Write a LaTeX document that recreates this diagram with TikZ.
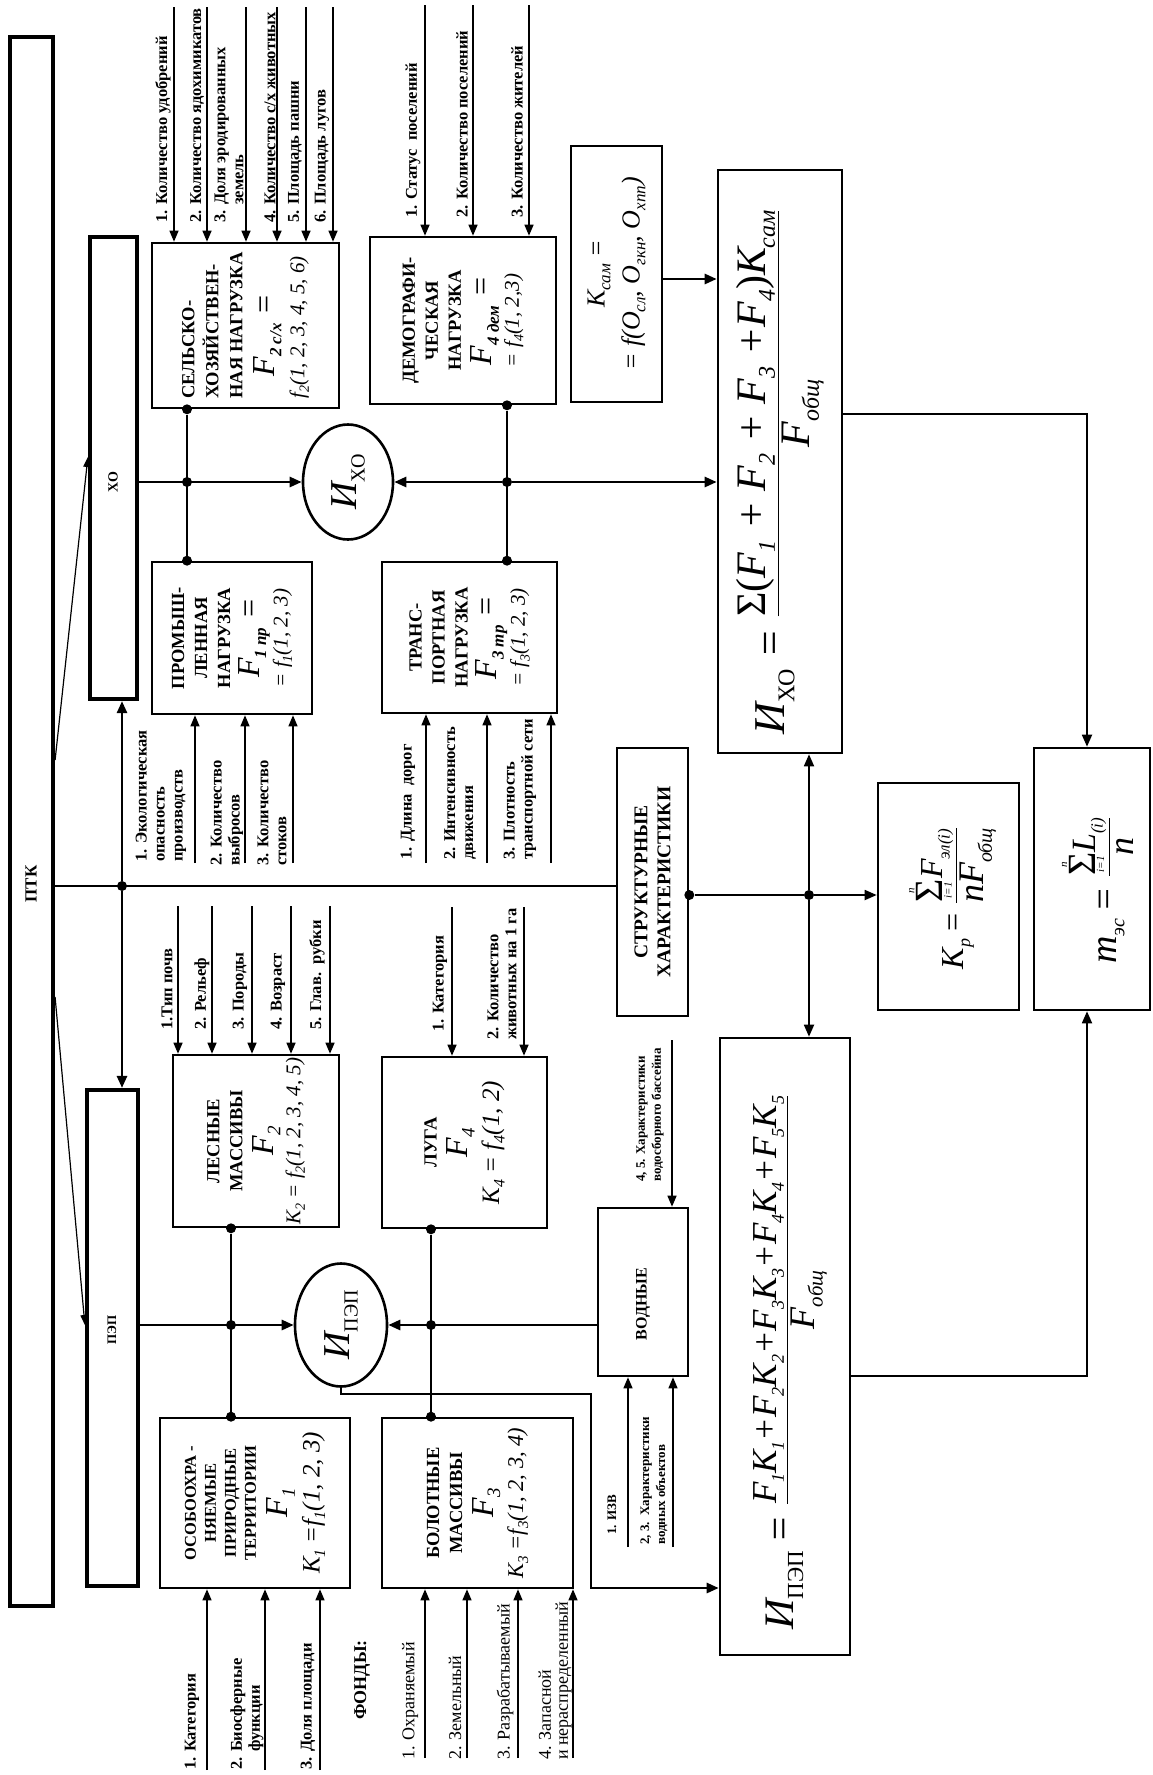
\documentclass[tikz,border=0pt]{standalone}
\usepackage{fontspec}
\setmainfont{Liberation Serif}
\usetikzlibrary{arrows.meta,fit,shapes.geometric}
\newcommand\myLB{\bfseries\fontsize{16.5}{18}\selectfont}
\newcommand\myLR{\fontsize{18}{17}\selectfont}
\newcommand\myLS{\bfseries\fontsize{13}{16}\selectfont}
\newcommand\myTT{\bfseries\fontsize{18.5}{18.5}\selectfont}
\newcommand\myTS{\bfseries\fontsize{16.5}{16.5}\selectfont}
\newcommand\myFF{\itshape\fontsize{32}{32}\selectfont}
\newcommand\myFM{\itshape\fontsize{21}{21}\selectfont}
\newcommand\myFL{\itshape\fontsize{25}{25}\selectfont}
\newcommand\mysub[2]{\raisebox{-0.22em}{\fontsize{#1}{#1}\selectfont #2}}
\begin{document}
\begin{tikzpicture}[x=1pt,y=-1pt,
  bx/.style={draw, line width=2.6pt, inner sep=0pt},
  tbx/.style={draw, line width=4.2pt, inner sep=0pt},
  rot/.style={rotate=90, inner sep=0pt, align=center, font=\fontsize{16}{23}\selectfont},
  lab/.style={rotate=90, inner sep=0pt, anchor=west, align=left, font=\myLB},
  labr/.style={lab, font=\myLR},
  labs/.style={lab, font=\myLS},
  inarr/.style={line width=1.4pt, -{Triangle[length=11pt,width=9pt]}},
  cn/.style={line width=2.6pt},
  cnarr/.style={cn, -{Triangle[length=12pt,width=10pt]}},
  tn/.style={line width=1.8pt},
  tnarr/.style={tn, -{Triangle[length=12pt,width=10pt]}},
  dg/.style={line width=1.2pt, -{Triangle[length=10pt,width=7pt]}},
  jd/.style={circle, fill, inner sep=0pt, minimum size=10pt},
  ell/.style={ellipse, draw, line width=2.6pt, inner sep=0pt}
]
\useasboundingbox (0,0) rectangle (1153,1775);
% ---------- frames
\node[tbx, fit={(10,37)(53,1606)}] (ptk) {};
\node[tbx, fit={(90,237)(137,699)}] (xo) {};
\node[tbx, fit={(87,1090)(138,1586)}] (pep) {};
\node[bx, fit={(152,243)(339,408)}] (sel) {};
\node[bx, fit={(370,237)(556,404)}] (dem) {};
\node[bx, fit={(571,146)(662,402)}] (ksam) {};
\node[bx, fit={(718,170)(842,753)}] (iho) {};
\node[bx, fit={(152,562)(312,714)}] (prom) {};
\node[bx, fit={(382,562)(557,713)}] (trans) {};
\node[bx, fit={(617,748)(688,1016)}] (strukt) {};
\node[bx, fit={(878,783)(1019,1010)}] (kp) {};
\node[bx, fit={(1034,748)(1150,1010)}] (mes) {};
\node[bx, fit={(173,1055)(339,1227)}] (les) {};
\node[bx, fit={(382,1057)(547,1228)}] (luga) {};
\node[bx, fit={(598,1208)(688,1376)}] (vod) {};
\node[bx, fit={(160,1418)(350,1588)}] (osobo) {};
\node[bx, fit={(382,1418)(573,1588)}] (bolot) {};
\node[bx, fit={(720,1038)(850,1655)}] (ipep) {};
\node[ell, minimum width=90pt, minimum height=115pt] (cho) at (348,482) {};
\node[ell, minimum width=92pt, minimum height=123pt] (cpep) at (341,1325) {};
% ---------- junction dots
\node[jd] (d1) at (sel.south -| 187,0) {};
\node[jd] (d2) at (prom.north -| 187,0) {};
\node[jd] (d3) at (187,482) {};
\node[jd] (d4) at (dem.south -| 507,0) {};
\node[jd] (d5) at (trans.north -| 507,0) {};
\node[jd] (d6) at (507,482) {};
\node[jd] (jp) at (122,886) {};
\node[jd] (js) at (strukt.east |- 0,895) {};
\node[jd] (jk) at (809,895) {};
\node[jd] (d7) at (les.south -| 231,0) {};
\node[jd] (d8) at (osobo.north -| 231,0) {};
\node[jd] (d9) at (231,1325) {};
\node[jd] (d10) at (luga.south -| 431,0) {};
\node[jd] (d11) at (bolot.north -| 431,0) {};
\node[jd] (d12) at (431,1325) {};
% ---------- connectors
\draw[cn] (d1) -- (d2);
\draw[cnarr] (xo.east |- d3) -- (cho);
\draw[cn] (d4) -- (d5);
\draw[cnarr] (d6) -- (cho);
\draw[cnarr] (d6) -- (d6 -| iho.west);
\draw[cnarr] (ksam.east |- 0,279) -- (iho.west |- 0,279);
\draw[cn] (ptk.east |- jp) -- (jp -| strukt.west);
\draw[cnarr] (jp) -- (jp |- xo.south);
\draw[cnarr] (jp) -- (jp |- pep.north);
\draw[dg] (ptk.east |- 0,760) -- (xo.west |- 0,457);
\draw[dg] (ptk.east |- 0,997) -- (pep.west |- 0,1325);
\draw[tn] (js) -- (jk);
\draw[tnarr] (jk) -- (jk -| kp.west);
\draw[tnarr] (jk) -- (jk |- iho.south);
\draw[tnarr] (jk) -- (jk |- ipep.north);
\draw[tnarr] (iho.east |- 0,414) -| (1087,0 |- mes.north);
\draw[tnarr] (ipep.east |- 0,1376) -| (1087,0 |- mes.south);
\draw[cn] (d7) -- (d8);
\draw[cnarr] (pep.east |- d9) -- (cpep);
\draw[cn] (d10) -- (d11);
\draw[cnarr] (vod.west |- d12) -- (cpep);
\draw[cnarr] (cpep.south) -- (cpep.south |- 0,1394) -| (591,1588) -- (ipep.west |- 0,1588);
% ---------- input arrows
\foreach \x in {174,207,246,277,306,333} \draw[inarr] (\x,7) -- (\x,7 |- sel.north);
\foreach \x in {425,473,529} \draw[inarr] (\x,5) -- (\x,5 |- dem.north);
\foreach \x in {195,245,293} \draw[inarr] (\x,863) -- (\x,863 |- prom.south);
\foreach \x in {426,487,551} \draw[inarr] (\x,863) -- (\x,863 |- trans.south);
\foreach \x in {178,212,252,291,330} \draw[inarr] (\x,906) -- (\x,906 |- les.north);
\foreach \x in {452,524} \draw[inarr] (\x,907) -- (\x,907 |- luga.north);
\draw[inarr] (672,1040) -- (672,1040 |- vod.north);
\foreach \x in {628,673} \draw[inarr] (\x,1547) -- (\x,1547 |- vod.south);
\foreach \x in {207,265,320} \draw[inarr] (\x,1770) -- (\x,1770 |- osobo.south);
\foreach \x in {425,467,518,573} \draw[inarr] (\x,1758) -- (\x,1758 |- bolot.south);
% ---------- labels of input arrows
\node[lab] (l1) at (163,223) {1. Количество удобрений};
\node[lab] (l2) at (197,223) {2. Количество ядохимикатов};
\node[lab] (l3) at (229,223) {3. Доля эродированных\\\phantom{3. }земель};
\node[lab] (l4) at (270,223) {4. Количество с/х животных};
\node[lab] (l5) at (295,223) {5. Площадь пашни};
\node[lab] (l6) at (322,223) {6. Площадь лугов};
\node[lab] (m1) at (413,218) {1. Статус\ \ поселений};
\node[lab] (m2) at (462,218) {2. Количество поселений};
\node[lab] (m3) at (517,218) {3. Количество жителей};
\node[lab] (p1) at (161,862) {1. Экологическая\\опасность\\производств};
\node[lab] (p2) at (227,866) {2. Количество\\выбросов};
\node[lab] (p3) at (272,866) {3. Количество\\стоков};
\node[lab] (t1) at (408,860) {1. Длина\ \ дорог};
\node[lab] (t2) at (460,860) {2. Интенсивность\\движения};
\node[lab] (t3) at (520,860) {3. Плотность\\транспортной сети};
\node[lab] (f1) at (167,1030) {1.Тип почв};
\node[lab] (f2) at (202,1030) {2. Рельеф};
\node[lab] (f3) at (240,1030) {3. Породы};
\node[lab] (f4) at (278,1030) {4. Возраст};
\node[lab] (f5) at (317,1030) {5. Глав.\ \ рубки};
\node[lab] (g1) at (440,1032) {1. Категория};
\node[lab] (g2) at (502,1040) {2. Количество\\животных на 1 га};
\node[labs] (w1) at (650,1182) {4, 5. Характеристики\\водосборного бассейна};
\node[labs] (w2) at (612,1535) {1. ИЗВ};
\node[labs] (w3) at (654,1545) {2, 3.\ \ Характеристики\\водных объектов};
\node[lab] (o1) at (192,1770) {1. Категория};
\node[lab] (o2) at (247,1770) {2. Биосферные\\\phantom{2. }функции};
\node[lab] (o3) at (308,1770) {3. Доля площади};
\node[lab, font=\bfseries\fontsize{18}{18}\selectfont] (fondy) at (362,1720) {ФОНДЫ:};
\node[labr] (b1) at (410,1760) {1. Охраняемый};
\node[labr] (b2) at (455,1760) {2. Земельный};
\node[labr] (b3) at (505,1760) {3. Разрабатываемый};
\node[labr] (b4) at (555,1760) {4. Запасной\\и нераспределенный};
% ---------- texts in frames
\node[rot] (ptkT) at (31,884) {\bfseries\fontsize{17}{17}\selectfont ПТК};
\node[rot] (xoT) at (113,482) {\bfseries\fontsize{14}{14}\selectfont ХО};
\node[rot] (pepT) at (112,1330) {\bfseries\fontsize{13}{13}\selectfont ПЭП};
\node[rot, align=left, font=\fontsize{16}{24}\selectfont] (selT) at (sel.center) {{\myTT СЕЛЬСКО-}\\{\myTT ХОЗЯЙСТВЕН-}\\{\myTT НАЯ НАГРУЗКА}\\[8pt]\hspace*{22pt}{\myFF F\mysub{17}{\bfseries 2 с/х} =}\\[6pt]{\myFM f\mysub{14}{2}(1, 2, 3, 4, 5, 6)}};
\node[rot] (demT) at (dem.center) {{\myTT ДЕМОГРАФИ-}\\{\myTT ЧЕСКАЯ}\\{\myTT НАГРУЗКА}\\[8pt]{\myFF F\mysub{17}{\bfseries 4 дем} =}\\[4pt]{\myFM = f\mysub{14}{4}(1, 2,3)}};
\node[rot] (promT) at (prom.center) {{\myTT ПРОМЫШ-}\\{\myTT ЛЕННАЯ}\\{\myTT НАГРУЗКА}\\[6pt]{\myFF F\mysub{17}{\bfseries 1 пр} =}\\[2pt]{\myFM = f\mysub{14}{1}(1, 2, 3)}};
\node[rot] (transT) at (trans.center) {{\myTT ТРАНС-}\\{\myTT ПОРТНАЯ}\\{\myTT НАГРУЗКА}\\[6pt]{\myFF F\mysub{17}{\bfseries 3 тр} =}\\[2pt]{\myFM = f\mysub{14}{3}(1, 2, 3)}};
\node[rot] (lesT) at (les.center) {{\myTT ЛЕСНЫЕ}\\{\myTT МАССИВЫ}\\[8pt]{\myFF F\mysub{19}{2}}\\[4pt]{\myFM К\mysub{14}{2} = f\mysub{14}{2}(1, 2, 3, 4, 5)}};
\node[rot] (lugaT) at (luga.center) {{\myTT ЛУГА}\\[8pt]{\myFF F\mysub{19}{4}}\\[6pt]{\myFL К\mysub{16}{4} = f\mysub{16}{4}(1, 2)}};
\node[rot, font=\fontsize{14}{20}\selectfont] (osoboT) at (osobo.center) {{\myTS ОСОБООХРА -}\\{\myTS НЯЕМЫЕ}\\{\myTS ПРИРОДНЫЕ}\\{\myTS ТЕРРИТОРИИ}\\[10pt]{\myFF F\mysub{19}{1}}\\[6pt]{\myFL К\mysub{16}{1} =f\mysub{16}{1}(1, 2, 3)}};
\node[rot] (bolotT) at (bolot.center) {{\myTT БОЛОТНЫЕ}\\{\myTT МАССИВЫ}\\[8pt]{\myFF F\mysub{19}{3}}\\[6pt]{\itshape\fontsize{22.5}{22.5}\selectfont К\mysub{15}{3} =f\mysub{15}{3}(1, 2, 3, 4)}};
\node[rot] (vodT) at (643,1304) {\bfseries\fontsize{16}{16}\selectfont ВОДНЫЕ};
\node[rot, font=\fontsize{16}{23}\selectfont] (struktT) at (strukt.center) {{\bfseries\fontsize{19.5}{19.5}\selectfont СТРУКТУРНЫЕ}\\{\bfseries\fontsize{19.5}{19.5}\selectfont ХАРАКТЕРИСТИКИ}};
\node[rot, font=\fontsize{26}{35}\selectfont] (ksamT) at (ksam.center) {{\itshape\fontsize{26}{26}\selectfont К\mysub{17}{сам} =}\\{\itshape\fontsize{26}{26}\selectfont = f(О\mysub{17}{сл}, О\mysub{17}{гкн}, О\mysub{17}{хпп})}};
\node[rot] (choT) at (cho.center) {\itshape\fontsize{38}{38}\selectfont И\mysub{20}{\upshape ХО}};
\node[rot] (cpepT) at (cpep.center) {\itshape\fontsize{38}{38}\selectfont И\mysub{20}{\upshape ПЭП}};
\node[rot] (ihoT) at (780,472) {\itshape\fontsize{44}{44}\selectfont И\mysub{24}{\upshape ХО} = $\displaystyle{\mbox{\fontsize{42}{42}\selectfont\upshape Σ(\itshape F\mysub{24}{1} + F\mysub{24}{2} + F\mysub{24}{3} +F\mysub{24}{4}\upshape )\itshape К\mysub{24}{сам}} \above 1pt \mbox{\fontsize{42}{42}\selectfont F\mysub{24}{общ}}}$};
\node[rot] (ipepT) at (790,1362) {\itshape\fontsize{42}{42}\selectfont И\mysub{23}{\upshape ПЭП}\,= $\displaystyle{\mbox{\fontsize{35}{35}\selectfont F\mysub{18}{1}K\mysub{18}{1}+F\mysub{18}{2}K\mysub{18}{2}+F\mysub{18}{3}K\mysub{18}{3}+F\mysub{18}{4}K\mysub{18}{4}+F\mysub{18}{5}K\mysub{18}{5}} \above 1pt \mbox{\fontsize{36}{36}\selectfont F\mysub{21}{общ}}}$};
\node[rot] (kpT) at (952,898) {\itshape\fontsize{32}{32}\selectfont K\mysub{18}{p}\,= $\displaystyle{\mbox{\fontsize{32}{32}\selectfont$\mathop{\mbox{\upshape\fontsize{40}{40}\selectfont Σ}}\limits^{\mbox{\fontsize{11}{11}\selectfont\itshape n}}_{\mbox{\fontsize{11}{11}\selectfont\itshape i=1}}$F\mysub{17}{эл(i)}} \above 1pt \mbox{\fontsize{36}{36}\selectfont nF\mysub{20}{общ}}}$};
\node[rot] (mesT) at (1097,890) {\itshape\fontsize{38}{38}\selectfont m\mysub{20}{эс}\,= $\displaystyle{\mbox{\fontsize{34}{34}\selectfont$\mathop{\mbox{\upshape\fontsize{40}{40}\selectfont Σ}}\limits^{\mbox{\fontsize{11}{11}\selectfont\itshape n}}_{\mbox{\fontsize{11}{11}\selectfont\itshape i=1}}$L\mysub{17}{(i)}} \above 1pt \mbox{\fontsize{36}{36}\selectfont n}}$};
\end{tikzpicture}
\end{document}
